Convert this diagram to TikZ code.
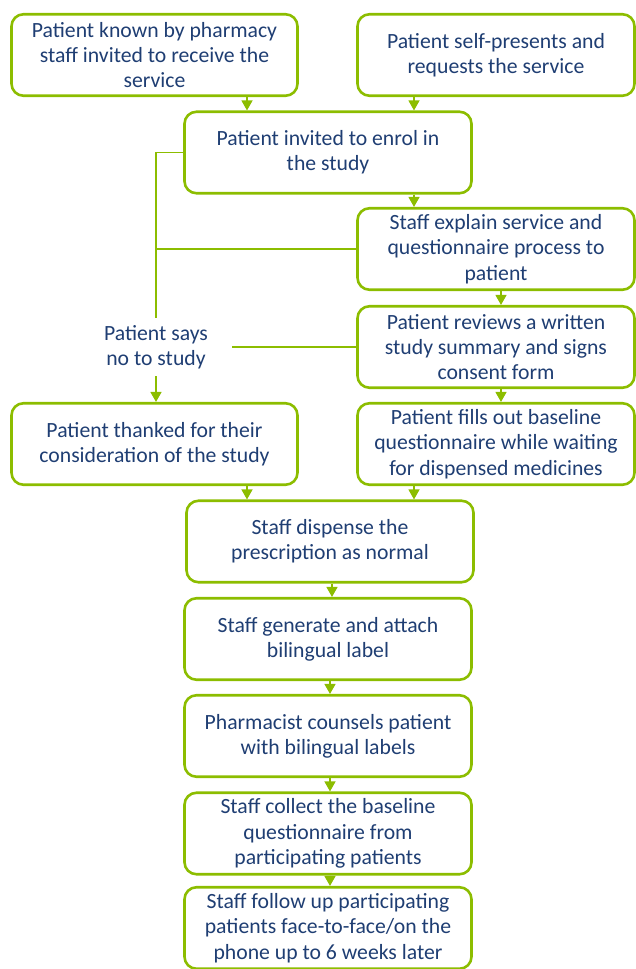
\documentclass[tikz,border=0pt]{standalone}
\usepackage{fontspec}
\setmainfont{Carlito}
\usetikzlibrary{arrows.meta}
\definecolor{boxgreen}{HTML}{8CBD00}
\definecolor{textnavy}{HTML}{1F3E73}
\begin{document}
\begin{tikzpicture}[x=1pt, y=-1pt]
    % Define styles
    \tikzset{
        stepbox/.style={draw=boxgreen, line width=2.6pt, fill=white, rounded corners=12pt, align=center, text=textnavy, inner sep=2pt, minimum height=81.5pt, font=\fontsize{21.7}{25.3}\selectfont},
        sidebox/.style={stepbox, minimum width=286pt},
        rightbox/.style={stepbox, minimum width=277pt},
        midbox/.style={stepbox, minimum width=287pt},
        declined/.style={align=center, text=textnavy, minimum width=152pt, minimum height=58pt, inner sep=0pt, font=\fontsize{21.7}{25.3}\selectfont},
        flowarrow/.style={-{Triangle[width=11pt,length=10pt]}, draw=boxgreen, fill=boxgreen, line width=1.3pt},
        thinline/.style={draw=boxgreen, line width=1.3pt}
    }
    \useasboundingbox (0,0) rectangle (636,969);

    % Entry points
    \node[sidebox] (known) at (154.5,55) {Patient known by pharmacy\\staff invited to receive the\\service};
    \node[rightbox] (self) at (496,55) {Patient self-presents and\\requests the service};

    % Enrolment
    \node[midbox] (invite) at (328,152.5) {Patient invited to enrol in\\the study};
    \node[rightbox] (explain) at (496,249) {Staff explain service and\\questionnaire process to\\patient};
    \node[rightbox] (review) at (496,347) {Patient reviews a written\\study summary and signs\\consent form};
    \node[declined] (says) at (156,347) {Patient says\\no to study};
    \node[sidebox] (thanks) at (154.5,444) {Patient thanked for their\\consideration of the study};
    \node[rightbox] (fill) at (496,444) {Patient fills out baseline\\questionnaire while waiting\\for dispensed medicines};

    % Dispensing and follow up
    \node[midbox] (dispense) at (330,541.5) {Staff dispense the\\prescription as normal};
    \node[midbox] (genlabel) at (328,639) {Staff generate and attach\\bilingual label};
    \node[midbox] (counsel) at (328,736) {Pharmacist counsels patient\\with bilingual labels};
    \node[midbox] (collect) at (328,833.5) {Staff collect the baseline\\questionnaire from\\participating patients};
    \node[midbox] (follow) at (328,928) {Staff follow up participating\\patients face-to-face/on the\\phone up to 6 weeks later};

    % Arrows
    \draw[flowarrow] ([xshift=92.5pt]known.south) -- ([xshift=-81pt]invite.north);
    \draw[flowarrow] ([xshift=-82pt]self.south) -- ([xshift=86pt]invite.north);
    \draw[flowarrow] ([xshift=86pt]invite.south) -- ([xshift=-82pt]explain.north);
    \draw[flowarrow] ([xshift=5pt]explain.south) -- ([xshift=5pt]review.north);
    \draw[flowarrow] ([xshift=5pt]review.south) -- ([xshift=5pt]fill.north);
    \draw[flowarrow] ([xshift=92.5pt]thanks.south) -- ([xshift=-83pt]dispense.north);
    \draw[flowarrow] ([xshift=-82pt]fill.south) -- ([xshift=84pt]dispense.north);
    \draw[flowarrow] ([xshift=2pt]dispense.south) -- ([xshift=4pt]genlabel.north);
    \foreach \a/\b in {genlabel/counsel, counsel/collect, collect/follow} {
        \draw[flowarrow] ([xshift=2pt]\a.south) -- ([xshift=2pt]\b.north);
    }

    % Declined branch
    \draw[thinline] (invite.west) -| (says.north);
    \draw[thinline] (explain.west) -- (explain.west -| says.north);
    \draw[thinline] (review.west) -- (says.east);
    \draw[flowarrow] (says.south) -- (says.south |- thanks.north);
\end{tikzpicture}
\end{document}
